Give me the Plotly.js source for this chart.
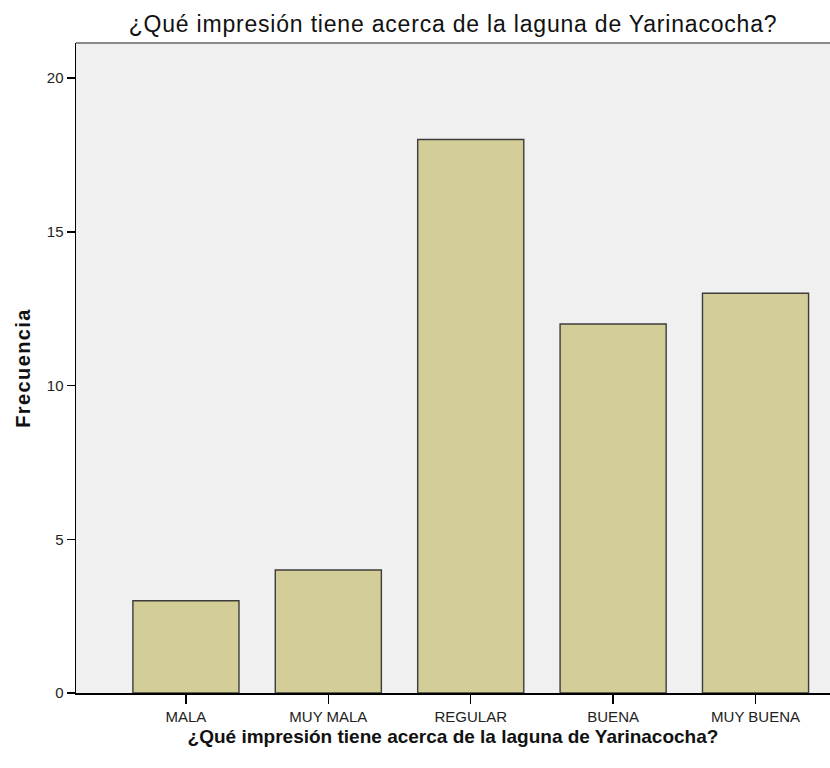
<!DOCTYPE html>
<html>
<head>
<meta charset="utf-8">
<script src="https://cdn.plot.ly/plotly-3.0.1.min.js"></script>
<style>
body{margin:0;padding:0;background:#fff;}
#chart{width:830px;height:768px;}
#chart text.gtitle{letter-spacing:0.8px;}
#chart text.ytitle{letter-spacing:1.4px;}
</style>
</head>
<body>
<div id="chart"></div>
<script>
const categories = ["MALA", "MUY MALA", "REGULAR", "BUENA", "MUY BUENA"];
const frecuencia = [3, 4, 18, 12, 13];
const yTickVals = [0, 5, 10, 15, 20];
const chartTitle = "¿Qué impresión tiene acerca de la laguna de Yarinacocha?";
const xTitle = "¿Qué impresión tiene acerca de la laguna de Yarinacocha?";
const yTitle = "Frecuencia";

const FONT = "Liberation Sans, Arial, sans-serif";

const trace = {
  type: "bar",
  x: categories,
  y: frecuencia,
  marker: {color: "#d3ce97", line: {color: "#3c3c3c", width: 1.4}},
  hoverinfo: "x+y"
};

const layout = {
  width: 830, height: 768,
  margin: {l: 76, r: 0, t: 43, b: 75, pad: 0},
  paper_bgcolor: "#ffffff",
  plot_bgcolor: "#f0f0f0",
  bargap: 0.255,
  showlegend: false,
  title: {text: chartTitle, font: {family: FONT, size: 23, color: "#111"}, xref: "paper", x: 0.5, xanchor: "center", yref: "container", y: 0.969, yanchor: "middle"},
  font: {family: FONT, color: "#222"},
  xaxis: {
    type: "category",
    range: [-0.772, 4.523],
    showgrid: false, zeroline: false,
    showline: true, linecolor: "#000", linewidth: 1.5,
    ticks: "outside", ticklen: 9, tickcolor: "#000", tickwidth: 1.5,
    tickfont: {size: 15, color: "#222"},
    title: {text: xTitle, font: {size: 19, color: "#111", family: FONT, weight: "bold"}, standoff: 6}
  },
  yaxis: {
    range: [0, 21.14],
    tickvals: yTickVals,
    showgrid: false, zeroline: false,
    showline: true, linecolor: "#000", linewidth: 1.5,
    ticks: "outside", ticklen: 8, tickcolor: "#000", tickwidth: 1.5,
    tickfont: {size: 15, color: "#222"},
    title: {text: yTitle, font: {size: 20, color: "#111", family: FONT, weight: "bold"}, standoff: 11}
  },
  shapes: [
    {type: "line", xref: "paper", yref: "paper", x0: 0, x1: 1, y0: 1, y1: 1, line: {color: "#8a8a8a", width: 2}}
  ]
};

Plotly.newPlot("chart", [trace], layout, {displayModeBar: false, staticPlot: true});
</script>
</body>
</html>
